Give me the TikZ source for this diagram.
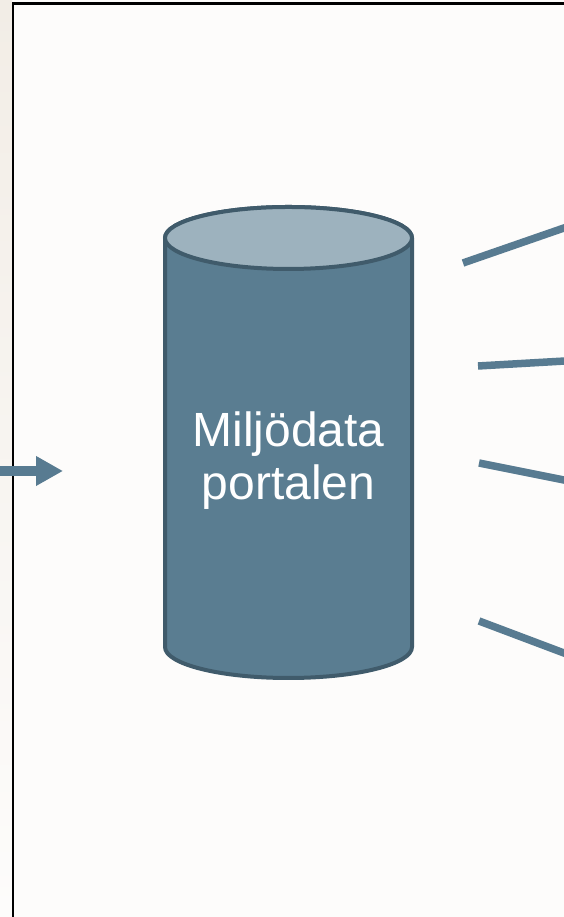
\documentclass[tikz,border=0pt]{standalone}
\usepackage{fontspec}
\setmainfont{Liberation Sans}
\usetikzlibrary{arrows.meta}
\definecolor{dbbody}{HTML}{5A7D91}
\definecolor{dbtop}{HTML}{9DB2BE}
\definecolor{dbedge}{HTML}{405B6B}
\definecolor{linkblue}{HTML}{587B91}
\definecolor{strip}{HTML}{F2EDE6}
\definecolor{paper}{HTML}{FDFCFB}

\begin{document}
\begin{tikzpicture}[x=1pt,y=1pt,
  link/.style={linkblue, line width=7.5pt},
  db/.style={draw=dbedge, line width=4pt}]
\useasboundingbox (0,0) rectangle (564,917);
\clip (0,0) rectangle (564,917);
\fill[paper] (0,0) rectangle (564,917);
\shade[top color=strip, bottom color=paper] (0,0) rectangle (12,917);
\draw[line width=2.5pt] (13,-10) |- (620,913.5);
\filldraw[db, fill=dbbody] (165,679) -- (165,270) arc[start angle=180, end angle=360, x radius=123.5, y radius=31]
  -- (412,679) arc[start angle=0, end angle=180, x radius=123.5, y radius=31] -- cycle;
\filldraw[db, fill=dbtop] (288.5,679) ellipse[x radius=123.5, y radius=31];
\node[white, font=\fontsize{48}{53}\selectfont, align=center] (portal) at (288.5,456.5) {Miljödata\\portalen};
\coordinate (src) at (-5,446);
\coordinate (dst) at (63,446);
\draw[link, line width=10pt, -{Triangle[length=27pt,width=28pt]}] (src) -- (dst);
\foreach \i/\a/\b/\c/\d in {1/463/654/600/701.5, 2/478/551/600/558, 3/479/454/600/429.8, 4/479/296/600/250.4} {
  \coordinate (s\i) at (\a,\b);
  \coordinate (e\i) at (\c,\d);
  \draw[link] (s\i) -- (e\i);
}
\end{tikzpicture}
\end{document}
